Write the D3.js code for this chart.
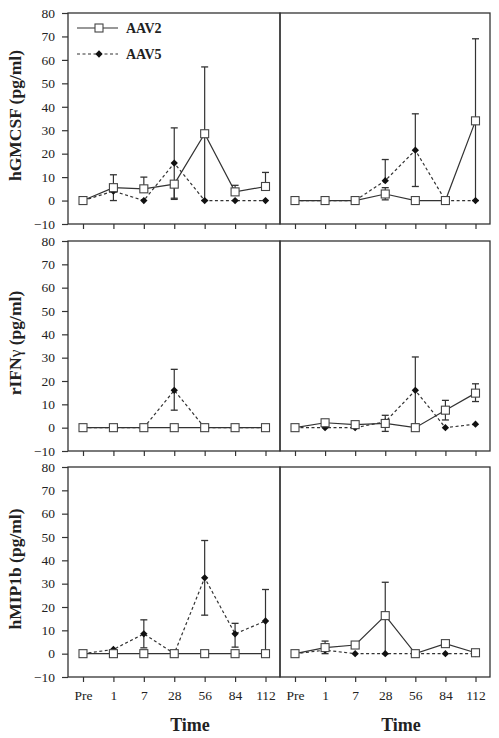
<!DOCTYPE html>
<html><head><meta charset="utf-8">
<script src="https://cdn.jsdelivr.net/npm/d3@7"></script>
<style>body{margin:0;background:#fff}svg{display:block}</style>
</head><body><svg id="c" width="499" height="738"></svg>
<script>
// ---------- DATA ----------
const times = ["Pre", "1", "7", "28", "56", "84", "112"];
const yTicks = [-10, 0, 10, 20, 30, 40, 50, 60, 70, 80];
const seriesNames = ["AAV2", "AAV5"];
const rowTitles = ["hGMCSF (pg/ml)", "rIFNγ (pg/ml)", "hMIP1b (pg/ml)"];
const xTitle = "Time";

// hGMCSF – left
const gmL_aav2    = [0, 5.5, 5, 7, 28.5, 3.7, 6];
const gmL_aav2_hi = [null, 11, 10, null, 57, 6.5, 12];
const gmL_aav2_lo = [null, 0, null, 1, 0, null, null];
const gmL_aav5    = [0, 4, 0, 16, 0, 0, 0];
const gmL_aav5_hi = [null, null, null, 31, null, null, null];
const gmL_aav5_lo = [null, null, null, 0.5, null, null, null];
// hGMCSF – right
const gmR_aav2    = [0, 0, 0, 2.8, 0, 0, 34];
const gmR_aav2_hi = [null, null, null, 5.5, null, null, 69];
const gmR_aav2_lo = [null, null, null, 0.3, null, null, 0];
const gmR_aav5    = [0, 0, 0, 8.5, 21.5, 0, 0];
const gmR_aav5_hi = [null, null, null, 17.5, 37, null, null];
const gmR_aav5_lo = [null, null, null, null, 6, null, null];
// rIFNγ – left
const ifL_aav2    = [0, 0, 0, 0, 0, 0, 0];
const ifL_aav2_hi = [null, null, null, null, null, null, null];
const ifL_aav2_lo = [null, null, null, null, null, null, null];
const ifL_aav5    = [0, 0, 0, 16, 0, 0, 0];
const ifL_aav5_hi = [null, null, null, 25, null, null, null];
const ifL_aav5_lo = [null, null, null, 7.5, null, null, null];
// rIFNγ – right
const ifR_aav2    = [0, 2.1, 1.3, 1.8, 0, 7.5, 14.8];
const ifR_aav2_hi = [null, null, null, 5.3, null, 11.7, 18.8];
const ifR_aav2_lo = [null, null, null, -1.6, null, 3.3, 11.2];
const ifR_aav5    = [0, 0, 0, 2.5, 16, 0, 1.5];
const ifR_aav5_hi = [null, null, null, null, 30.3, null, null];
const ifR_aav5_lo = [null, null, null, null, 1.5, null, null];
// hMIP1b – left
const mpL_aav2    = [0, 0, 0, 0, 0, 0, 0];
const mpL_aav2_hi = [null, null, null, null, null, null, null];
const mpL_aav2_lo = [null, null, null, null, null, null, null];
const mpL_aav5    = [0, 1.8, 8.5, 0, 32.5, 8.5, 14];
const mpL_aav5_hi = [null, null, 14.5, null, 48.5, 13, 27.5];
const mpL_aav5_lo = [null, null, 2.5, null, 16.5, 2.8, 0];
// hMIP1b – right
const mpR_aav2    = [0, 2.6, 3.7, 16.3, 0, 4.3, 0.4];
const mpR_aav2_hi = [null, 5.4, null, 30.6, null, null, null];
const mpR_aav2_lo = [null, 0, null, 0, null, null, null];
const mpR_aav5    = [0, 1.5, 0, 0, 0, 0, 0];
const mpR_aav5_hi = [null, null, null, null, null, null, null];
const mpR_aav5_lo = [null, null, null, null, null, null, null];

const panelData = [
  [ {a2: gmL_aav2, a2hi: gmL_aav2_hi, a2lo: gmL_aav2_lo, a5: gmL_aav5, a5hi: gmL_aav5_hi, a5lo: gmL_aav5_lo},
    {a2: gmR_aav2, a2hi: gmR_aav2_hi, a2lo: gmR_aav2_lo, a5: gmR_aav5, a5hi: gmR_aav5_hi, a5lo: gmR_aav5_lo} ],
  [ {a2: ifL_aav2, a2hi: ifL_aav2_hi, a2lo: ifL_aav2_lo, a5: ifL_aav5, a5hi: ifL_aav5_hi, a5lo: ifL_aav5_lo},
    {a2: ifR_aav2, a2hi: ifR_aav2_hi, a2lo: ifR_aav2_lo, a5: ifR_aav5, a5hi: ifR_aav5_hi, a5lo: ifR_aav5_lo} ],
  [ {a2: mpL_aav2, a2hi: mpL_aav2_hi, a2lo: mpL_aav2_lo, a5: mpL_aav5, a5hi: mpL_aav5_hi, a5lo: mpL_aav5_lo},
    {a2: mpR_aav2, a2hi: mpR_aav2_hi, a2lo: mpR_aav2_lo, a5: mpR_aav5, a5hi: mpR_aav5_hi, a5lo: mpR_aav5_lo} ]
];

// ---------- LAYOUT ----------
const colX = [[68, 280], [280, 490]];
const rowY = [[13, 224], [241, 451], [467, 677]];
const FONT = "'Liberation Serif','Times New Roman',serif";
const INK = "#333";

const svg = d3.select("#c");

rowY.forEach((ry, r) => {
  const y = d3.scaleLinear().domain([-10, 80]).range([ry[1], ry[0]]);
  colX.forEach((cx, c) => {
    const x = d3.scalePoint().domain(times).range([cx[0] + 15, cx[1] - 14.5]);
    const g = svg.append("g");
    const d = panelData[r][c];

    // frame
    g.append("rect").attr("x", cx[0]).attr("y", ry[0])
      .attr("width", cx[1] - cx[0]).attr("height", ry[1] - ry[0])
      .attr("fill", "none").attr("stroke", INK).attr("stroke-width", 1.3);

    // x axis ticks
    const xa = d3.axisBottom(x).tickSize(5).tickPadding(8)
      .tickFormat(r === 2 ? (t => t) : (() => ""));
    const gx = g.append("g").attr("transform", `translate(0,${ry[1]})`).call(xa);
    gx.select(".domain").remove();
    gx.selectAll(".tick line").attr("stroke", INK).attr("stroke-width", 1.2);
    gx.selectAll(".tick text").attr("font-family", FONT).attr("font-size", 13.5).attr("fill", "#222");

    // y axis (left column only)
    if (c === 0) {
      const ya = d3.axisLeft(y).tickValues(yTicks).tickSize(6).tickPadding(7);
      const gy = g.append("g").attr("transform", `translate(${cx[0]},0)`).call(ya);
      gy.select(".domain").remove();
      gy.selectAll(".tick line").attr("stroke", INK).attr("stroke-width", 1.2);
      gy.selectAll(".tick text").attr("font-family", FONT).attr("font-size", 13.5).attr("fill", "#222");
    }

    // error bars
    const drawErr = (vals, hi, lo) => {
      vals.forEach((v, i) => {
        [hi[i], lo[i]].forEach(b => {
          if (b === null || b === undefined) return;
          const xx = x(times[i]);
          g.append("line").attr("x1", xx).attr("x2", xx).attr("y1", y(v)).attr("y2", y(b))
            .attr("stroke", INK).attr("stroke-width", 1.2);
          g.append("line").attr("x1", xx - 3.5).attr("x2", xx + 3.5).attr("y1", y(b)).attr("y2", y(b))
            .attr("stroke", INK).attr("stroke-width", 1.3);
        });
      });
    };
    drawErr(d.a5, d.a5hi, d.a5lo);
    drawErr(d.a2, d.a2hi, d.a2lo);

    const line = d3.line().x((v, i) => x(times[i])).y(v => y(v));
    g.append("path").attr("d", line(d.a5)).attr("fill", "none")
      .attr("stroke", INK).attr("stroke-width", 1.2).attr("stroke-dasharray", "3,2.5");
    g.append("path").attr("d", line(d.a2)).attr("fill", "none")
      .attr("stroke", INK).attr("stroke-width", 1.2);

    // diamonds
    g.selectAll(".dia").data(d.a5).enter().append("path")
      .attr("d", d3.symbol(d3.symbolDiamond2, 34)())
      .attr("transform", (v, i) => `translate(${x(times[i])},${y(v)})`)
      .attr("fill", "#111");
    // squares
    g.selectAll(".sq").data(d.a2).enter().append("rect")
      .attr("x", (v, i) => x(times[i]) - 4).attr("y", v => y(v) - 4)
      .attr("width", 8).attr("height", 8)
      .attr("fill", "#fff").attr("stroke", "#444").attr("stroke-width", 1.1);
  });

  // row title
  const t = svg.append("text")
    .attr("transform", `translate(21,${(ry[0] + ry[1]) / 2 - 3}) rotate(-90)`)
    .attr("text-anchor", "middle").attr("font-family", FONT)
    .attr("font-size", 17.5).attr("font-weight", "bold").attr("fill", "#222");
  const parts = rowTitles[r].split("γ");
  parts.forEach((p, k) => {
    t.append("tspan").text(p);
    if (k < parts.length - 1) t.append("tspan").attr("font-weight", "normal").text("γ");
  });
});

// x titles
colX.forEach((cx, c) => {
  svg.append("text").attr("x", (cx[0] + cx[1]) / 2 + 16).attr("y", 731)
    .attr("text-anchor", "middle").attr("font-family", FONT)
    .attr("font-size", 18).attr("font-weight", "bold").attr("fill", "#222").text(xTitle);
});

// legend
const lg = svg.append("g");
[0, 1].forEach(k => {
  const ly = k === 0 ? 28 : 54;
  lg.append("line").attr("x1", 77).attr("x2", 118).attr("y1", ly).attr("y2", ly)
    .attr("stroke", INK).attr("stroke-width", 1.2)
    .attr("stroke-dasharray", k === 1 ? "3,2.5" : null);
  if (k === 0) {
    lg.append("rect").attr("x", 95).attr("y", ly - 4).attr("width", 8).attr("height", 8)
      .attr("fill", "#fff").attr("stroke", "#444").attr("stroke-width", 1.1);
  } else {
    lg.append("path").attr("d", d3.symbol(d3.symbolDiamond2, 34)())
      .attr("transform", `translate(99,${ly})`).attr("fill", "#111");
  }
  lg.append("text").attr("x", 126).attr("y", ly + 5).attr("font-family", FONT)
    .attr("font-size", 14).attr("font-weight", "bold").attr("fill", "#222").text(seriesNames[k]);
});
</script></body></html>
